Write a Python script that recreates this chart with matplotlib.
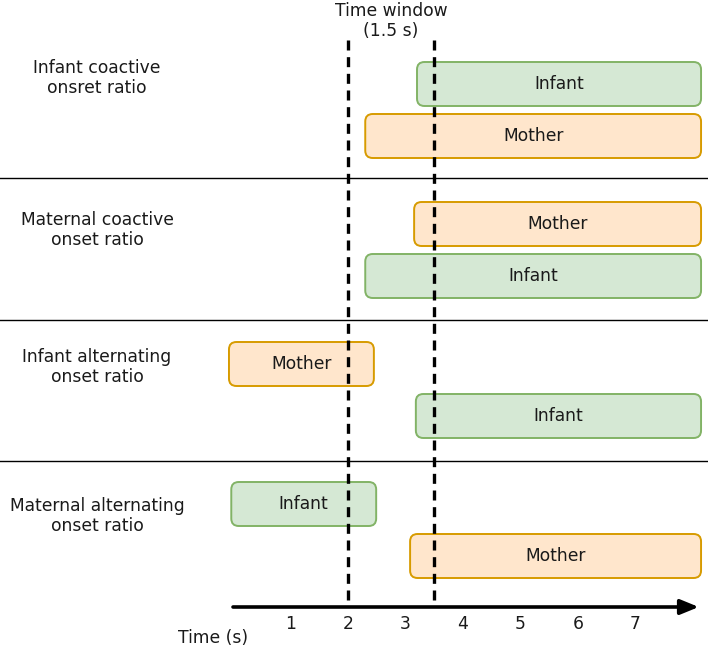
import matplotlib.pyplot as plt
from matplotlib.patches import FancyBboxPatch

# rows (top to bottom) and their labels
row_labels = ["Infant coactive\nonsret ratio",
              "Maternal coactive\nonset ratio",
              "Infant alternating\nonset ratio",
              "Maternal alternating\nonset ratio"]

# bars per row: (who, start s, end s), upper bar first
bar_who = [["Infant", "Mother"],
           ["Mother", "Infant"],
           ["Mother", "Infant"],
           ["Infant", "Mother"]]
bar_start = [[3.2, 2.3], [3.15, 2.3], [-0.07, 3.18], [-0.03, 3.08]]
bar_end = [[8.14, 8.14], [8.14, 8.14], [2.45, 8.14], [2.49, 8.14]]

window = [2.0, 3.5]
ticks = [1, 2, 3, 4, 5, 6, 7]

colors = {"Infant": ("#d5e8d4", "#82b366"),
          "Mother": ("#ffe6cc", "#d79b00")}

# layout in pixel rows (y grows downward)
px_per_s = 57.5
x0_px = 233
row_top = [62, 202, 342, 482]
bar_h = 44
bar_gap = 52
separators = [178, 320, 461]
label_y = [78, 230, 367, 516]
axis_y = 607

fig = plt.figure(figsize=(7.08, 6.51), dpi=100)
ax = fig.add_axes([0, 0, 1, 1])
ax.set_xlim(-x0_px / px_per_s, (708 - x0_px) / px_per_s)
ax.set_ylim(651, 0)
ax.axis("off")

font = 12.3
txt = "#1a1a1a"

for i in range(4):
    for j in range(2):
        who = bar_who[i][j]
        fc, ec = colors[who]
        s, e = bar_start[i][j], bar_end[i][j]
        y = row_top[i] + j * bar_gap
        box = FancyBboxPatch((s, y), e - s, bar_h,
                             boxstyle="round,pad=0,rounding_size=0.13",
                             mutation_aspect=px_per_s,
                             fc=fc, ec=ec, lw=1.4, zorder=2)
        ax.add_patch(box)
        ax.text((s + e) / 2, y + bar_h / 2, who, ha="center", va="center",
                fontsize=font, color=txt, zorder=3)
    ax.text(-x0_px / px_per_s + 97 / px_per_s, label_y[i], row_labels[i],
            ha="center", va="center", fontsize=font, color=txt,
            linespacing=1.15)

for y in separators:
    ax.axhline(y, color="black", lw=1.0, zorder=1)

# time window dashed lines
for w in window:
    ax.plot([w, w], [40, axis_y], color="black", lw=2.4,
            ls=(0, (3, 2)), zorder=4)
ax.text(sum(window) / 2, 21, "Time window\n(1.5 s)", ha="center",
        va="center", fontsize=font, color=txt, linespacing=1.15)

# time axis
ax.annotate("", xy=(8.1, axis_y), xytext=(0, axis_y),
            arrowprops=dict(arrowstyle="-|>,head_length=1.1,head_width=0.45",
                            color="black", lw=2.6, shrinkA=0, shrinkB=0))
for t in ticks:
    ax.text(t, 624, str(t), ha="center", va="center", fontsize=font,
            color=txt)
ax.text(-20 / px_per_s, 638, "Time (s)", ha="center", va="center",
        fontsize=font, color=txt)

fig.savefig("out.png", dpi=100)
